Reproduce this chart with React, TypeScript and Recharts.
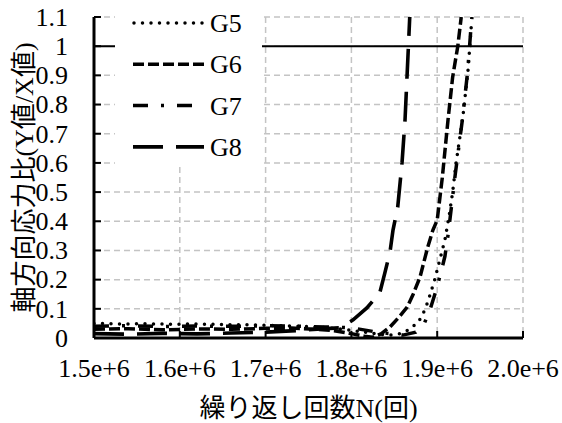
import React from 'react';
import { LineChart, Line, XAxis, YAxis, CartesianGrid, ReferenceLine, Legend } from 'recharts';

// ---- data ----
const g5N = [1.50e6, 1.53e6, 1.56e6, 1.59e6, 1.62e6, 1.65e6, 1.68e6, 1.71e6, 1.74e6, 1.77e6, 1.79e6, 1.81e6, 1.83e6, 1.845e6, 1.857e6, 1.868e6, 1.876e6, 1.882e6, 1.889e6, 1.897e6, 1.903e6, 1.909e6, 1.914e6, 1.918e6, 1.922e6, 1.926e6, 1.930e6, 1.933e6, 1.936e6, 1.938e6, 1.940e6];
const g5R = [0.050, 0.048, 0.049, 0.047, 0.048, 0.046, 0.045, 0.043, 0.040, 0.036, 0.030, 0.022, 0.014, 0.010, 0.015, 0.030, 0.050, 0.072, 0.123, 0.199, 0.267, 0.336, 0.42, 0.50, 0.60, 0.68, 0.76, 0.84, 0.92, 1.00, 1.08];

const g6N = [1.50e6, 1.54e6, 1.58e6, 1.62e6, 1.66e6, 1.70e6, 1.73e6, 1.76e6, 1.78e6, 1.80e6, 1.815e6, 1.825e6, 1.835e6, 1.845e6, 1.855e6, 1.865e6, 1.872e6, 1.880e6, 1.889e6, 1.895e6, 1.900e6, 1.906e6, 1.911e6, 1.9126e6, 1.918e6, 1.924e6, 1.928e6];
const g6R = [0.030, 0.032, 0.028, 0.031, 0.030, 0.033, 0.034, 0.030, 0.025, 0.015, 0.006, 0.003, 0.015, 0.038, 0.070, 0.106, 0.150, 0.209, 0.312, 0.370, 0.404, 0.551, 0.700, 0.747, 0.894, 1.00, 1.10];

const g7N = [1.50e6, 1.54e6, 1.58e6, 1.62e6, 1.66e6, 1.70e6, 1.74e6, 1.77e6, 1.80e6, 1.83e6, 1.86e6, 1.875e6, 1.885e6, 1.892e6, 1.897e6, 1.904e6, 1.909e6, 1.913e6, 1.917e6, 1.921e6, 1.925e6, 1.929e6, 1.932e6, 1.935e6, 1.937e6, 1.939e6, 1.9405e6];
const g7R = [0.040, 0.042, 0.039, 0.041, 0.040, 0.042, 0.040, 0.038, 0.035, 0.020, 0.010, 0.020, 0.050, 0.100, 0.147, 0.220, 0.280, 0.360, 0.460, 0.560, 0.650, 0.740, 0.820, 0.900, 0.970, 1.050, 1.10];

const g8N = [1.50e6, 1.54e6, 1.58e6, 1.62e6, 1.66e6, 1.70e6, 1.74e6, 1.77e6, 1.787e6, 1.802e6, 1.818e6, 1.833e6, 1.839e6, 1.845e6, 1.8485e6, 1.854e6, 1.859e6, 1.8625e6, 1.8648e6, 1.868e6];
const g8R = [0.015, 0.013, 0.016, 0.014, 0.017, 0.020, 0.026, 0.032, 0.035, 0.062, 0.103, 0.154, 0.223, 0.295, 0.370, 0.449, 0.600, 0.747, 0.894, 1.10];

const seriesNames = ['G5', 'G6', 'G7', 'G8'];
const xTicks = [1.5e6, 1.6e6, 1.7e6, 1.8e6, 1.9e6, 2.0e6];
const xTickLabels = ['1.5e+6', '1.6e+6', '1.7e+6', '1.8e+6', '1.9e+6', '2.0e+6'];
const yTicks = [0, 0.1, 0.2, 0.3, 0.4, 0.5, 0.6, 0.7, 0.8, 0.9, 1.0, 1.1];
const yTickLabels = ['0', '0.1', '0.2', '0.3', '0.4', '0.5', '0.6', '0.7', '0.8', '0.9', '1', '1.1'];
const xTitle = '繰り返し回数N(回)';
const yTitle = '軸方向応力比(Y値/X値)';

const toPoints = (ns: number[], rs: number[]) => ns.map((n, i) => ({ n, r: rs[i] }));
const seriesData = [toPoints(g5N, g5R), toPoints(g6N, g6R), toPoints(g7N, g7R), toPoints(g8N, g8R)];

// ---- styles ----
const SERIF_NAME = 'Liberation Serif';
const SERIF = '"Liberation Serif"';
const SANS_CJK = '"Noto Sans CJK JP"';
const FS = 26;
const seriesStyles = [
  { dash: '0 8.5', cap: 'round' as const, width: 3.5 },
  { dash: '11 4', cap: 'butt' as const, width: 3.5 },
  { dash: '15 13 3 13', cap: 'butt' as const, width: 3.5 },
  { dash: '30 13', cap: 'butt' as const, width: 3.6 },
];

const X_MARGIN = 39;
const Y_MARGIN = 26;

const isCJK = (ch: string) => /[\u3000-\u9fff\uff00-\uffef]/.test(ch);
const splitRuns = (s: string) => {
  const runs: { text: string; cjk: boolean }[] = [];
  for (const ch of Array.from(s)) {
    const c = isCJK(ch);
    if (runs.length && runs[runs.length - 1].cjk === c) runs[runs.length - 1].text += ch;
    else runs.push({ text: ch, cjk: c });
  }
  return runs;
};
const MixedText = ({ text }: { text: string }) => (
  <>
    {splitRuns(text).map((r, i) => (
      <tspan
        key={i}
        fontFamily={r.cjk ? 'Noto Sans CJK JP' : SERIF_NAME}
        style={{ fontFamily: r.cjk ? SANS_CJK : SERIF }}
      >
        {r.text}
      </tspan>
    ))}
  </>
);

const XTick = (props: any) => {
  const { x, y, index } = props;
  const axisY = y - X_MARGIN;
  return (
    <g>
      <line x1={x} x2={x} y1={axisY} y2={axisY - 7} stroke="#000" strokeWidth={2} />
      <text x={x} y={y} textAnchor="middle" fontFamily={SERIF_NAME} style={{ fontFamily: SERIF }} fontSize={FS} fill="#000">
        {xTickLabels[index]}
      </text>
    </g>
  );
};

const YTick = (props: any) => {
  const { x, y, index } = props;
  const axisX = x + Y_MARGIN;
  return (
    <g>
      <line x1={axisX} x2={axisX + 7} y1={y} y2={y} stroke="#000" strokeWidth={2} />
      <text x={x} y={y} dy="0.34em" textAnchor="end" fontFamily={SERIF_NAME} style={{ fontFamily: SERIF }} fontSize={FS} fill="#000">
        {yTickLabels[index]}
      </text>
    </g>
  );
};

const XTitle = (props: any) => {
  const vb = props.viewBox;
  return (
    <text x={vb.x + vb.width / 2} y={vb.y + 79} textAnchor="middle" fontSize={FS} fill="#000">
      <MixedText text={xTitle} />
    </text>
  );
};

const YTitle = (props: any) => {
  const vb = props.viewBox;
  const cx = vb.x + 33;
  const cy = vb.y + vb.height / 2;
  return (
    <text x={cx} y={cy} textAnchor="middle" fontSize={FS} fill="#000" transform={`rotate(-90, ${cx}, ${cy})`}>
      <MixedText text={yTitle} />
    </text>
  );
};

const LegendBox = () => (
  <svg width={147} height={158} style={{ display: 'block' }}>
    <rect x={0} y={0} width={147} height={158} fill="#fff" />
    {seriesNames.map((name, i) => {
      const cy = 15 + i * 41.3;
      const s = seriesStyles[i];
      return (
        <g key={name}>
          <line x1={i === 0 ? 19 : 18} x2={i === 0 ? 88 : 89} y1={cy} y2={cy} stroke="#000" strokeWidth={s.width} strokeDasharray={s.dash} strokeLinecap={s.cap} />
          <text x={95} y={cy + 9} fontFamily={SERIF_NAME} style={{ fontFamily: SERIF }} fontSize={FS} fill="#000">{name}</text>
        </g>
      );
    })}
  </svg>
);

export default function App() {
  return (
    <div style={{ position: 'absolute', left: 0, top: 0, fontFamily: SERIF }}>
      <LineChart width={562} height={423} margin={{ top: 17, right: 39, bottom: 0, left: 0 }}>
        <CartesianGrid stroke="#c4c4c4" strokeDasharray="6 4" strokeWidth={1.5} />
        <XAxis
          dataKey="n"
          type="number"
          domain={[1.5e6, 2.0e6]}
          ticks={xTicks}
          interval={0}
          height={85}
          tickSize={0}
          tickMargin={X_MARGIN}
          tick={<XTick />}
          axisLine={{ stroke: '#000', strokeWidth: 3 }}
          allowDataOverflow
          label={<XTitle />}
        />
        <YAxis
          dataKey="r"
          type="number"
          domain={[0, 1.1]}
          ticks={yTicks}
          interval={0}
          width={94}
          tickSize={0}
          tickMargin={Y_MARGIN}
          tick={<YTick />}
          axisLine={{ stroke: '#000', strokeWidth: 3 }}
          allowDataOverflow
          label={<YTitle />}
        />
        <ReferenceLine y={1} stroke="#000" strokeWidth={2} />
        {seriesNames.map((name, i) => (
          <Line
            key={name}
            name={name}
            data={seriesData[i]}
            dataKey="r"
            type="linear"
            stroke="#000"
            strokeWidth={seriesStyles[i].width}
            strokeDasharray={seriesStyles[i].dash}
            strokeLinecap={seriesStyles[i].cap}
            dot={false}
            activeDot={false}
            isAnimationActive={false}
          />
        ))}
        <Legend
          layout="horizontal"
          verticalAlign="middle"
          align="center"
          content={<LegendBox />}
          wrapperStyle={{ left: 115, top: 8, width: 147, height: 158, backgroundColor: '#fff' }}
        />
      </LineChart>
    </div>
  );
}
